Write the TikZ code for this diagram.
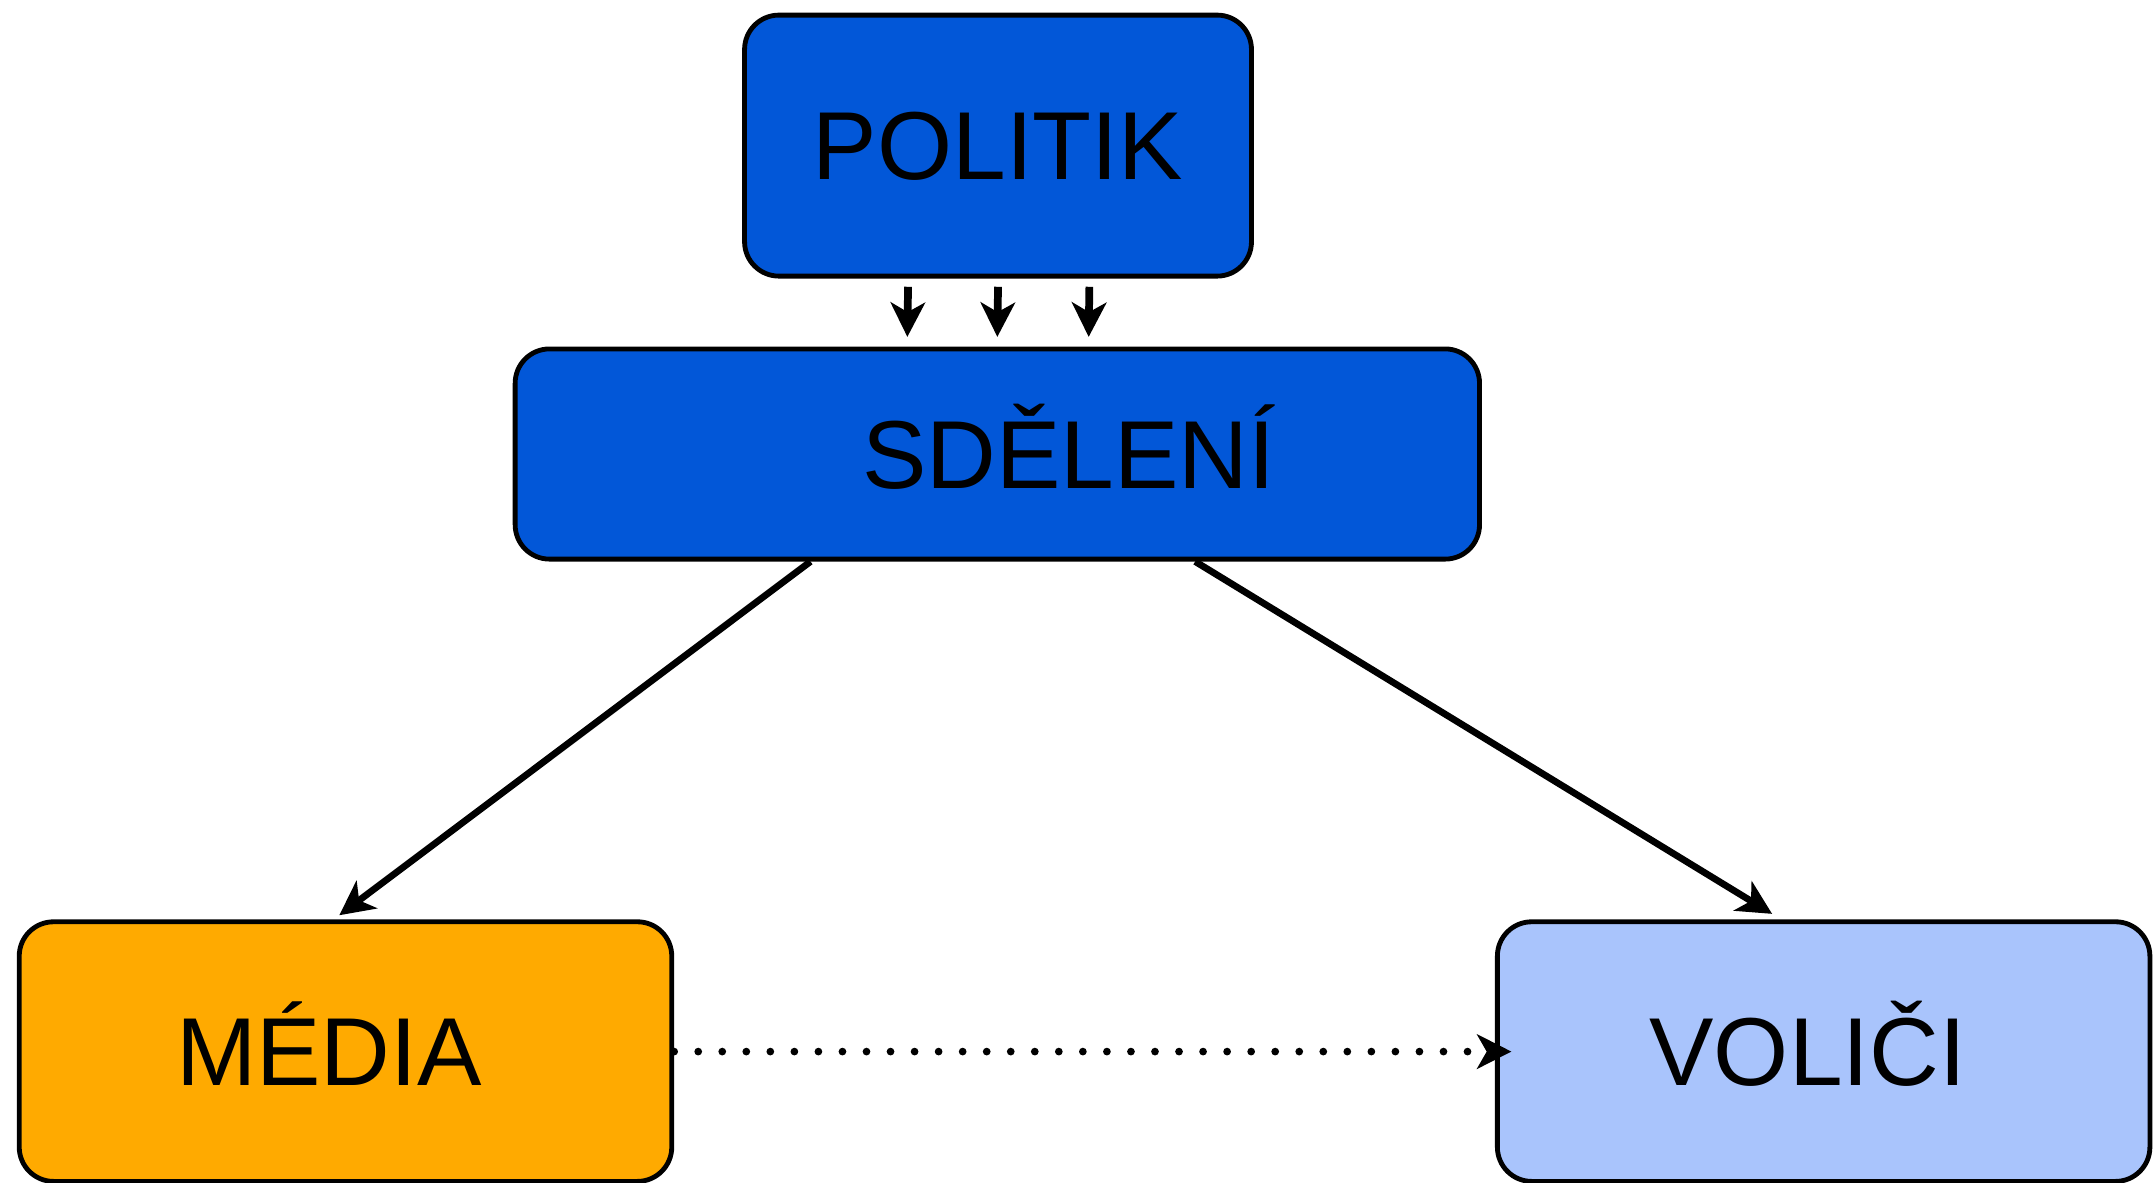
\documentclass[tikz,border=0pt]{standalone}
\usepackage{fontspec}
\setmainfont{Liberation Sans}
\usetikzlibrary{arrows.meta}

\definecolor{msgblue}{HTML}{0257D8}
\definecolor{mediaorange}{HTML}{FFAA00}
\definecolor{voterblue}{HTML}{A9C4FC}

\begin{document}
\begin{tikzpicture}[
    boxfont/.style={font=\fontsize{40}{48}\selectfont, text height=1cm, text depth=0pt},
    box/.style={draw, line width=2pt, rounded corners=0.5cm, inner sep=0pt,
      minimum width=9.5cm, minimum height=3.78cm, boxfont},
    link/.style={line width=2.8pt, -{Stealth[length=0.5cm, width=0.5cm, inset=0.14cm]}},
  ]
  \useasboundingbox (0, 0) rectangle (31.36, 17.22);

  \node[box, fill=msgblue, minimum width=7.38cm, minimum height=3.8cm] (politik) at (14.53, 15.10) {POLITIK};
  \node[box, fill=msgblue, minimum width=14.04cm, minimum height=3.06cm,
    label={[boxfont, xshift=1.04cm]center:SDĚLENÍ}] (sdeleni) at (14.52, 10.61) {};
  \node[box, fill=mediaorange,
    label={[boxfont, xshift=-0.24cm]center:MÉDIA}] (media) at (5.03, 1.91) {};
  \node[box, fill=voterblue,
    label={[boxfont, xshift=-0.23cm]center:VOLIČI}] (volici) at (26.55, 1.91) {};

  \foreach \dx in {-1.31, 0, 1.33}
    \draw[link, line width=3.2pt] ([xshift=\dx cm, yshift=-0.12cm]politik.south) -- ([xshift=\dx cm, yshift=0.14cm]sdeleni.north);

  \draw[link] ([xshift=-2.72cm]sdeleni.south) -- ([xshift=-0.09cm, yshift=0.06cm]media.north);
  \draw[link] ([xshift=2.88cm]sdeleni.south) -- ([xshift=-0.75cm, yshift=0.08cm]volici.north);
  \draw[link, line width=3.2pt, line cap=round, dash pattern=on 0pt off 0.35cm] (media.east) -- ([xshift=0.24cm]volici.west);
\end{tikzpicture}
\end{document}
